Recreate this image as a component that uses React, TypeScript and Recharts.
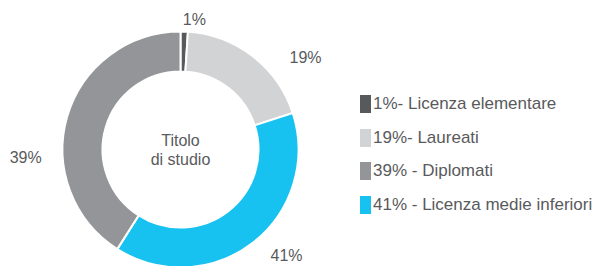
import React from 'react';
import { PieChart, Pie, Cell } from 'recharts';

// Slices in drawing order (clockwise from 12 o'clock), sized as drawn in the original
const categories = ['Licenza elementare', 'Laureati', 'Licenza medie inferiori', 'Diplomati'];
const shares = [1, 19, 39, 41];
// the percentages printed beside each slice
const sliceLabels = ['1%', '19%', '41%', '39%'];
const colors = ['#58595b', '#d1d3d4', '#17c2f0', '#939598'];

// Legend order and wording as printed
const legendOrder = [0, 1, 3, 2];
const legendLabels = ['1%- Licenza elementare', '19%- Laureati', '41% - Licenza medie inferiori', '39% - Diplomati'];

const data = categories.map((name, i) => ({ name, value: shares[i], label: sliceLabels[i] }));

const FONT = '"Liberation Sans", Arial, sans-serif';
const TEXT = '#595a5c';

// per-slice nudges so the % labels sit where the original has them
const labelNudge = [
  { r: 131, a: -4.3 },
  { r: 155, a: -16 },
  { r: 150, a: 7.2 },
  { r: 155, a: 19 },
];

const RADIAN = Math.PI / 180;

const renderLabel = (props: any) => {
  const { cx, cy, midAngle, index, payload } = props;
  const n = labelNudge[index];
  const ang = (midAngle + n.a) * RADIAN;
  const x = cx + n.r * Math.cos(ang);
  const y = cy - n.r * Math.sin(ang);
  return (
    <text x={x} y={y} fill={TEXT} fontSize={16} fontFamily={FONT} textAnchor="middle" dominantBaseline="central">
      {payload.label}
    </text>
  );
};

const CustomLegend = () => (
  <div style={{ position: 'absolute', left: 360, top: 87, fontFamily: FONT, color: TEXT, fontSize: 17 }}>
    {legendOrder.map((idx) => (
      <div key={idx} style={{ display: 'flex', alignItems: 'center', height: 33.7, whiteSpace: 'nowrap' }}>
        <div style={{ width: 11, height: 18, backgroundColor: colors[idx], marginRight: 2 }} />
        <span>{legendLabels[idx]}</span>
      </div>
    ))}
  </div>
);

export default function App() {
  return (
    <div style={{ position: 'absolute', left: 0, top: 0, width: 600, height: 266, background: '#fff' }}>
      <PieChart width={600} height={266} margin={{ top: 0, right: 0, bottom: 0, left: 0 }}>
        <Pie
          data={data}
          dataKey="value"
          nameKey="name"
          cx={180.5}
          cy={149.5}
          innerRadius={78}
          outerRadius={118}
          startAngle={90}
          endAngle={-270}
          stroke="#ffffff"
          strokeWidth={2}
          label={renderLabel}
          labelLine={false}
          isAnimationActive={false}
        >
          {data.map((d, i) => (
            <Cell key={d.name} fill={colors[i]} />
          ))}
        </Pie>
        <text x={180.5} y={140} textAnchor="middle" dominantBaseline="central" fill={TEXT} fontSize={16} fontFamily={FONT}>
          Titolo
        </text>
        <text x={180.5} y={159} textAnchor="middle" dominantBaseline="central" fill={TEXT} fontSize={16} fontFamily={FONT}>
          di studio
        </text>
      </PieChart>
      <CustomLegend />
    </div>
  );
}
